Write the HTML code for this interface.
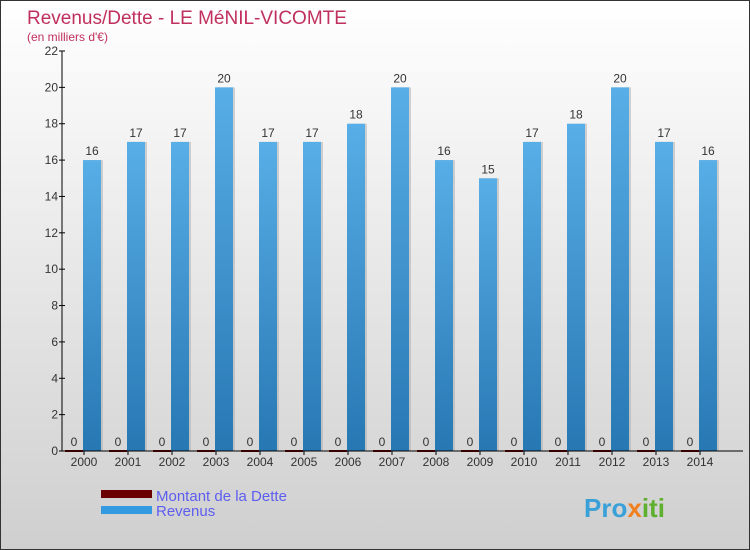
<!DOCTYPE html>
<html><head><meta charset="utf-8"><style>
body{margin:0}
#c{position:relative;width:750px;height:550px;overflow:hidden;font-family:"Liberation Sans",sans-serif;background:linear-gradient(#ffffff,#cfcfcf);box-sizing:border-box;border:1px solid #333}
</style></head><body>
<div id="c">
<svg width="750" height="550" style="position:absolute;left:0;top:0" id="svg">
<defs><linearGradient id="bg" x1="0" y1="0" x2="0" y2="1"><stop offset="0" stop-color="#58aee6"/><stop offset="1" stop-color="#2777b3"/></linearGradient></defs>
<text x="26" y="23" font-size="19" fill="#c0305e">Revenus/Dette - LE MéNIL-VICOMTE</text>
<text x="26" y="40" font-size="12" fill="#c0305e">(en milliers d'€)</text>
<g id="plot"></g>
<rect x="100" y="489" width="51" height="8" fill="#6b0000"/>
<text x="155" y="500" font-size="15" fill="#5d5df0">Montant de la Dette</text>
<rect x="100" y="505" width="51" height="8" fill="#3399e0"/>
<text x="155" y="515" font-size="15" fill="#5d5df0">Revenus</text>
<text x="583" y="516" font-size="26" font-weight="bold" fill="#3aa0d8">Pro<tspan fill="#f08020">x</tspan><tspan fill="#60b030">iti</tspan></text>
</svg>
</div>
<script>
const years=["2000","2001","2002","2003","2004","2005","2006","2007","2008","2009","2010","2011","2012","2013","2014"];
const revenus=[16,17,17,20,17,17,18,20,16,15,17,18,20,17,16];
const dette=[0,0,0,0,0,0,0,0,0,0,0,0,0,0,0];
const yTicks=[0,2,4,6,8,10,12,14,16,18,20,22];
const NS="http://www.w3.org/2000/svg";
const g=document.getElementById('plot');
const y0=450,yTop=50,yMax=22,x0=61;
function y(v){return y0-(v/yMax)*(y0-yTop);}
function gx(i){return 83+i*44;}
function mk(t,a,txt){const e=document.createElementNS(NS,t);for(const k in a)e.setAttribute(k,a[k]);if(txt!==undefined)e.textContent=txt;g.appendChild(e);return e;}
yTicks.forEach(v=>{
 const l=mk('line',{x1:x0-3,x2:x0+3,y1:y(v),y2:y(v),stroke:'#000'});
 
 
 const t=mk('text',{x:x0-4,y:y(v)+4,'font-size':12,'text-anchor':'end',fill:'#333'},v);
 
 
});
years.forEach((yr,i)=>{
 const cx=gx(i);
 const d=mk('rect',{x:cx-19,y:y(dette[i])-1,width:18,height:Math.max(1,y0-y(dette[i]))+1,fill:'#6b0000'});
 
 
 const dl=mk('text',{x:cx-10,y:y(dette[i])-5,'font-size':12,'text-anchor':'middle',fill:'#333'},dette[i]);
 
 
 const sh=mk('rect',{x:cx+1,y:y(revenus[i]),width:18,height:y0-y(revenus[i]),fill:'#aaa',opacity:0.5});
 
 
 const r=mk('rect',{x:cx-1,y:y(revenus[i]),width:18,height:y0-y(revenus[i]),fill:'url(#bg)'});
 
 
 const rl=mk('text',{x:cx+8,y:y(revenus[i])-5,'font-size':12,'text-anchor':'middle',fill:'#333'},revenus[i]);
 
 
 const tk=mk('line',{x1:cx,x2:cx,y1:y0,y2:y0+4,stroke:'#000'});
 
 
 const xl=mk('text',{x:cx,y:y0+15,'font-size':12,'text-anchor':'middle',fill:'#333'},yr);
 
 
});
const ax=mk('line',{x1:x0,x2:x0,y1:yTop,y2:y0,stroke:'#000'});


const bx=mk('line',{x1:x0,x2:742,y1:y0,y2:y0,stroke:'#000'});


</script>
</body></html>
